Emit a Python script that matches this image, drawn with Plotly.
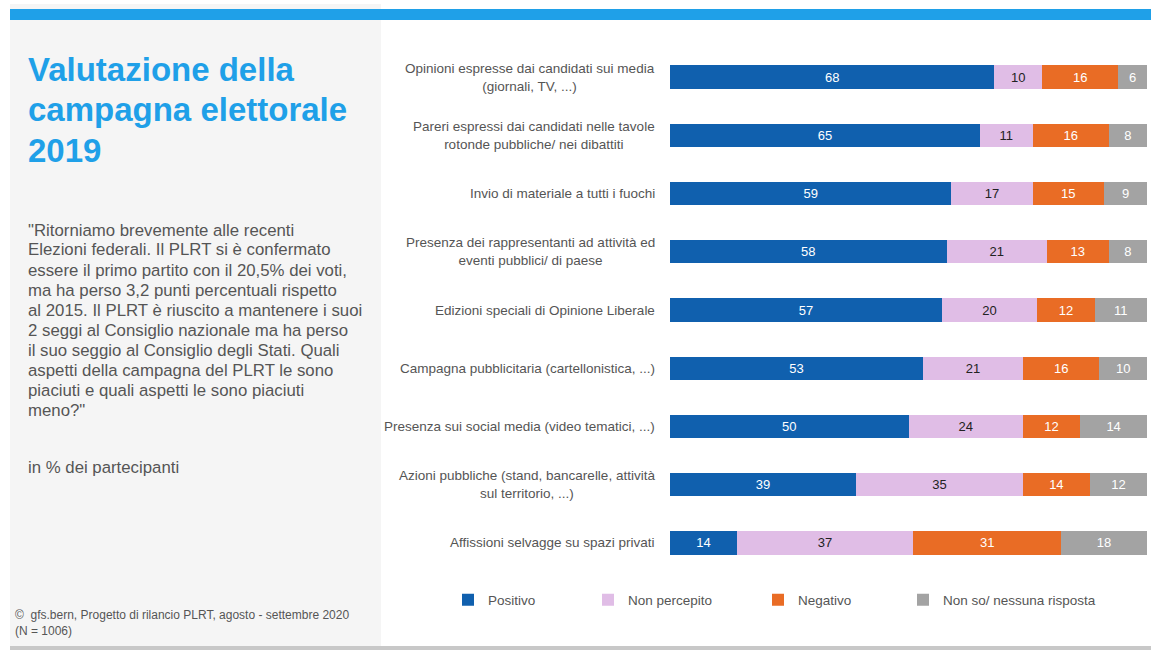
import plotly.graph_objects as go

items = [
    "Opinioni espresse dai candidati sui media<br>(giornali, TV, ...)",
    "Pareri espressi dai candidati nelle tavole<br>rotonde pubbliche/ nei dibattiti",
    "Invio di materiale a tutti i fuochi",
    "Presenza dei rappresentanti ad attività ed<br>eventi pubblici/ di paese",
    "Edizioni speciali di Opinione Liberale",
    "Campagna pubblicitaria (cartellonistica, ...)",
    "Presenza sui social media (video tematici, ...)",
    "Azioni pubbliche (stand, bancarelle, attività<br>sul territorio, ...)",
    "Affissioni selvagge su spazi privati",
]
positivo = [68, 65, 59, 58, 57, 53, 50, 39, 14]
non_percepito = [10, 11, 17, 21, 20, 21, 24, 35, 37]
negativo = [16, 16, 15, 13, 12, 16, 12, 14, 31]
non_so = [6, 8, 9, 8, 11, 10, 14, 12, 18]

title_lines = ["Valutazione della", "campagna elettorale", "2019"]
question_lines = [
    '"Ritorniamo brevemente alle recenti',
    "Elezioni federali. Il PLRT si è confermato",
    "essere il primo partito con il 20,5% dei voti,",
    "ma ha perso 3,2 punti percentuali rispetto",
    "al 2015. Il PLRT è riuscito a mantenere i suoi",
    "2 seggi al Consiglio nazionale ma ha perso",
    "il suo seggio al Consiglio degli Stati. Quali",
    "aspetti della campagna del PLRT le sono",
    "piaciuti e quali aspetti le sono piaciuti",
    'meno?"',
]

series = [
    ("Positivo", positivo, "#1060ae", "white"),
    ("Non percepito", non_percepito, "#e0bde6", "#222222"),
    ("Negativo", negativo, "#e96c25", "white"),
    ("Non so/ nessuna risposta", non_so, "#a3a3a3", "white"),
]
legend_marker_x = [472, 612, 782, 927]  # px, legend symbol positions

W, H = 1151, 650
FONT = "Liberation Sans"
GREY = "#555555"
cats = list(range(len(items)))


def px_x(v):
    return v / W


def px_y(v):
    return 1 - v / H


fig = go.Figure()
legend_layout = {}
for k, (name, vals, col, tcol) in enumerate(series):
    lg = "legend" if k == 0 else "legend%d" % (k + 1)
    fig.add_trace(go.Bar(
        y=cats, x=vals, name=name, orientation="h", legend=lg,
        marker=dict(color=col, line=dict(width=0)),
        text=vals, textposition="inside", insidetextanchor="middle",
        textangle=0, constraintext="none",
        textfont=dict(color=tcol, size=13, family=FONT),
        hoverinfo="skip",
    ))
    legend_layout[lg] = dict(
        x=px_x(legend_marker_x[k] - 24), y=px_y(600), xanchor="left", yanchor="middle",
        itemwidth=30, font=dict(size=13.5, color=GREY, family=FONT),
        bgcolor="rgba(0,0,0,0)",
    )

shapes = [
    dict(type="rect", xref="paper", yref="paper", x0=px_x(10), x1=px_x(381), y0=px_y(646), y1=px_y(4),
         fillcolor="#f5f5f5", line=dict(width=0), layer="below"),
    dict(type="rect", xref="paper", yref="paper", x0=px_x(10), x1=1, y0=px_y(20), y1=px_y(9),
         fillcolor="#1fa0e8", line=dict(width=0)),
    dict(type="rect", xref="paper", yref="paper", x0=px_x(10), x1=1, y0=0, y1=px_y(646),
         fillcolor="#c8c8c8", line=dict(width=0)),
]

annotations = []
for i, lab in enumerate(items):
    annotations.append(dict(
        x=px_x(657), xref="paper", y=i, yref="y", text=lab, showarrow=False,
        xanchor="right", yanchor="middle", align="center",
        font=dict(size=13.5, color=GREY, family=FONT),
    ))

for k, line in enumerate(title_lines):
    annotations.append(dict(
        x=px_x(26), y=px_y(69 + 40.5 * k), xref="paper", yref="paper",
        xanchor="left", yanchor="middle", showarrow=False,
        text="<b>" + line + "</b>",
        font=dict(size=33, color="#1fa0e8", family=FONT),
    ))

for k, line in enumerate(question_lines):
    annotations.append(dict(
        x=px_x(26), y=px_y(230 + 20 * k), xref="paper", yref="paper",
        xanchor="left", yanchor="middle", showarrow=False, text=line,
        font=dict(size=16.8, color=GREY, family=FONT),
    ))
annotations.append(dict(
    x=px_x(26), y=px_y(467), xref="paper", yref="paper", xanchor="left", yanchor="middle",
    showarrow=False, text="in % dei partecipanti",
    font=dict(size=16.8, color=GREY, family=FONT),
))
annotations.append(dict(
    x=px_x(13), y=px_y(615), xref="paper", yref="paper", xanchor="left", yanchor="middle",
    showarrow=False, text="©  gfs.bern, Progetto di rilancio PLRT, agosto - settembre 2020",
    font=dict(size=12, color=GREY, family=FONT),
))
annotations.append(dict(
    x=px_x(13), y=px_y(631), xref="paper", yref="paper", xanchor="left", yanchor="middle",
    showarrow=False, text="(N = 1006)",
    font=dict(size=12, color=GREY, family=FONT),
))

fig.update_layout(
    width=W, height=H, barmode="stack", bargap=0.6,
    margin=dict(l=0, r=0, t=0, b=0, autoexpand=False),
    paper_bgcolor="white", plot_bgcolor="white",
    xaxis=dict(domain=[px_x(670), px_x(1147)], range=[0, 100], visible=False, fixedrange=True),
    yaxis=dict(domain=[px_y(572), px_y(48)], range=[8.5, -0.5], visible=False, fixedrange=True),
    shapes=shapes, annotations=annotations,
    showlegend=True,
    font=dict(family=FONT),
    **legend_layout,
)

fig.write_html("out.html", config={"displayModeBar": False, "responsive": False},
               post_script="document.body.style.margin='0';document.body.style.overflow='hidden';")
